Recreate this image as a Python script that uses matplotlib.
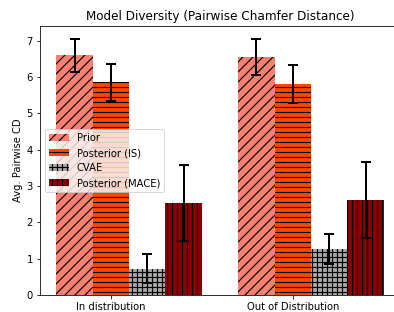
import numpy as np
import matplotlib
matplotlib.use('Agg')
import matplotlib.pyplot as plt

groups = ['In distribution', 'Out of Distribution']
models = ['Prior', 'Posterior (IS)', 'CVAE', 'Posterior (MACE)']
means = [[6.6, 6.55],
         [5.85, 5.8],
         [0.72, 1.27],
         [2.53, 2.62]]
errs = [[0.45, 0.5],
        [0.52, 0.52],
        [0.4, 0.41],
        [1.05, 1.05]]
colors = ['salmon', 'orangered', 'darkgray', 'darkred']
hatches = ['//', '--', '++', '||']

# render at 60 dpi so hatch spacing matches, scale sizes back up
D = 60
k = 72 / D
plt.rcParams['font.size'] = 10 * k
plt.rcParams['axes.linewidth'] = 0.8 * k
plt.rcParams['xtick.major.size'] = 3.5 * k
plt.rcParams['ytick.major.size'] = 3.5 * k
plt.rcParams['xtick.major.width'] = 0.8 * k
plt.rcParams['ytick.major.width'] = 0.8 * k
plt.rcParams['xtick.major.pad'] = 3.5 * k
plt.rcParams['ytick.major.pad'] = 3.5 * k
plt.rcParams['axes.titlepad'] = 6 * k
plt.rcParams['axes.labelpad'] = 4 * k
plt.rcParams['legend.frameon'] = True
plt.rcParams['patch.linewidth'] = 1.0 * k
plt.rcParams['hatch.linewidth'] = 1.4

fig = plt.figure(figsize=(394/D, 312/D), dpi=D)
ax = fig.add_axes([0.1015, 0.0545, 0.914, 0.862])

x = np.arange(len(groups))
w = 0.2
for i in range(len(models)):
    ax.bar(x + (i-1)*w, means[i], w, yerr=errs[i], color=colors[i], hatch=hatches[i],
           label=models[i], capsize=5*k, error_kw=dict(elinewidth=2*k, capthick=2*k))

ax.set_xticks(x)
ax.set_xticklabels(groups)
ax.set_ylabel('Avg. Pairwise CD')
ax.set_title('Model Diversity (Pairwise Chamfer Distance)')
ax.legend(loc='center left')
fig.savefig('out.png', dpi=D)
